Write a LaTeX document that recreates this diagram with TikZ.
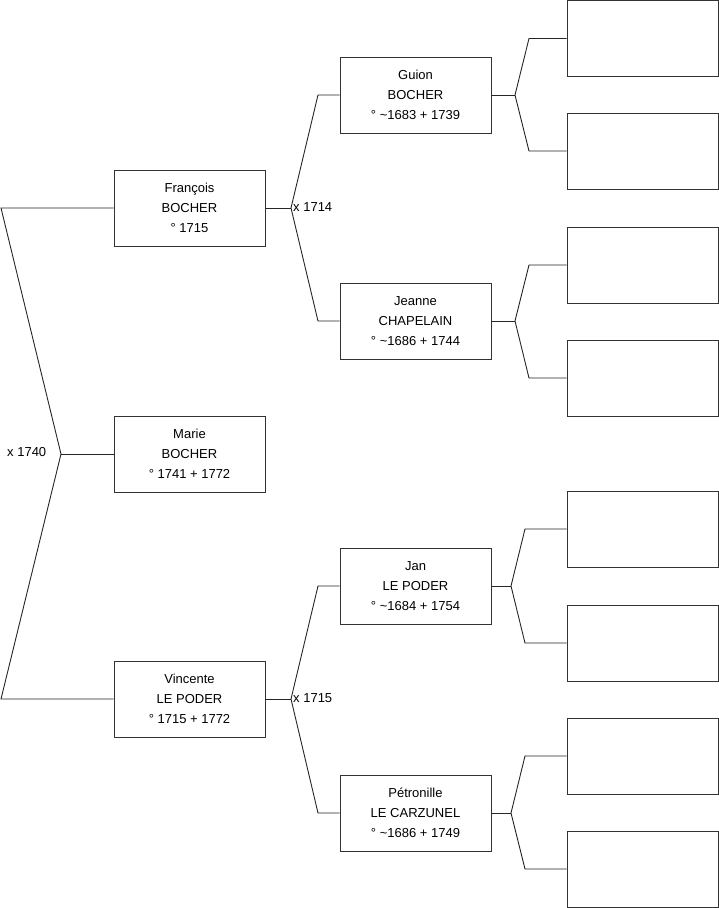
\documentclass[tikz,border=0pt]{standalone}
\usepackage{fontspec}
\setmainfont{Liberation Sans}
\newcommand{\tl}{\textasciitilde}
\begin{document}
\begin{tikzpicture}[x=1pt,y=-1pt,
  person/.style={draw=black!80, line width=0.9pt, minimum width=151pt, minimum height=76pt,
    align=center, inner sep=0pt, font=\fontsize{13}{20}\selectfont},
  link/.style={draw=black!85, line width=0.9pt},
  lbl/.style={inner sep=0pt, font=\fontsize{13}{14}\selectfont}]
\useasboundingbox (0,0) rectangle (719,908);
% generation 1-2
\node[person] (fr) at (189.5,208) {François\\BOCHER\\° 1715};
\node[person] (ma) at (189.5,454) {Marie\\BOCHER\\° 1741 + 1772};
\node[person] (vi) at (189.5,699) {Vincente\\LE PODER\\° 1715 + 1772};
% generation 3
\node[person] (gu) at (415.5,95) {Guion\\BOCHER\\° \tl1683 + 1739};
\node[person] (je) at (415.5,321) {Jeanne\\CHAPELAIN\\° \tl1686 + 1744};
\node[person] (ja) at (415.5,586) {Jan\\LE PODER\\° \tl1684 + 1754};
\node[person] (pe) at (415.5,813) {Pétronille\\LE CARZUNEL\\° \tl1686 + 1749};
% generation 4 (empty)
\node[person] (e1) at (642.5,38.5) {};
\node[person] (e2) at (642.5,151) {};
\node[person] (e3) at (642.5,265) {};
\node[person] (e4) at (642.5,378) {};
\node[person] (e5) at (642.5,529) {};
\node[person] (e6) at (642.5,643) {};
\node[person] (e7) at (642.5,756) {};
\node[person] (e8) at (642.5,869) {};
% left union
\coordinate (a1) at (1,208);
\coordinate (j0) at (61,454);
\coordinate (a2) at (1,699);
\draw[link] (fr.west) -- (a1) -- (j0) -- (a2) -- (vi.west);
\draw[link] (j0) -- (ma.west);
\node[lbl, anchor=west] (m0) at (7,452) {x 1740};
% François parents
\coordinate (j1) at (291,208);
\coordinate (b1) at (318,95);
\coordinate (b2) at (318,321);
\draw[link] (fr.east) -- (j1);
\draw[link] (gu.west) -- (b1) -- (j1) -- (b2) -- (je.west);
\node[lbl, anchor=west] (m1) at (293,207) {x 1714};
% Vincente parents
\coordinate (j2) at (291,699);
\coordinate (b3) at (318,586);
\coordinate (b4) at (318,813);
\draw[link] (vi.east) -- (j2);
\draw[link] (ja.west) -- (b3) -- (j2) -- (b4) -- (pe.west);
\node[lbl, anchor=west] (m2) at (293,698) {x 1715};
% Guion parents
\coordinate (k1) at (515,95);
\coordinate (c1) at (529,38.5);
\coordinate (c2) at (529,151);
\draw[link] (gu.east) -- (k1);
\draw[link] (e1.west) -- (c1) -- (k1) -- (c2) -- (e2.west);
% Jeanne parents
\coordinate (k2) at (515,321);
\coordinate (c3) at (529,265);
\coordinate (c4) at (529,378);
\draw[link] (je.east) -- (k2);
\draw[link] (e3.west) -- (c3) -- (k2) -- (c4) -- (e4.west);
% Jan parents
\coordinate (k3) at (511,586);
\coordinate (c5) at (525,529);
\coordinate (c6) at (525,643);
\draw[link] (ja.east) -- (k3);
\draw[link] (e5.west) -- (c5) -- (k3) -- (c6) -- (e6.west);
% Pétronille parents
\coordinate (k4) at (511,813);
\coordinate (c7) at (525,756);
\coordinate (c8) at (525,869);
\draw[link] (pe.east) -- (k4);
\draw[link] (e7.west) -- (c7) -- (k4) -- (c8) -- (e8.west);
\end{tikzpicture}
\end{document}
